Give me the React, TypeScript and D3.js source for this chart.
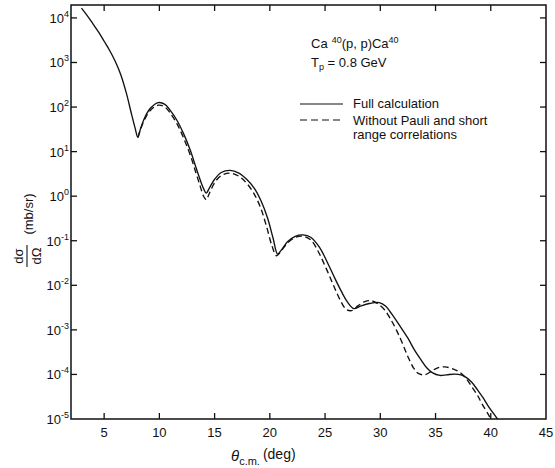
import React from "react";
import * as d3 from "d3";

// ---- data ----
const solidAngle = [2.95, 3.5, 4.0, 4.5, 5.0, 5.5, 6.0, 6.5, 7.0, 7.5, 7.8, 8.05, 8.3, 8.7, 9.2, 9.9, 10.5, 11.0, 11.6, 12.2, 12.8, 13.3, 13.7, 14.0, 14.25, 14.5, 15.0, 15.6, 16.4, 17.2, 17.9, 18.6, 19.2, 19.8, 20.3, 20.7, 21.0, 21.6, 22.3, 23.0, 23.7, 24.5, 25.2, 25.9, 26.5, 27.0, 27.6, 28.2, 29.0, 29.9, 30.5, 31.0, 31.8, 32.5, 33.1, 33.7, 34.2, 34.7, 35.4, 36.0, 36.75, 37.3, 37.8, 38.3, 38.8, 39.3, 39.8, 40.6, 41.0];
const solidValue = [1.66e4, 1.1e4, 7.3e3, 4.8e3, 3.0e3, 1.86e3, 1.07e3, 5.4e2, 2.1e2, 66, 34, 21, 33, 60, 95, 126, 115, 83, 50, 25, 10.7, 4.5, 2.3, 1.48, 1.17, 1.48, 2.4, 3.4, 3.8, 3.3, 2.4, 1.5, 0.79, 0.32, 0.112, 0.05, 0.06, 0.095, 0.126, 0.135, 0.12, 0.071, 0.033, 0.0141, 0.0071, 0.0043, 0.003, 0.0034, 0.0039, 0.0041, 0.0034, 0.00234, 0.0012, 6.5e-4, 3.5e-4, 2.1e-4, 1.41e-4, 1.1e-4, 9.5e-5, 9.8e-5, 1.02e-4, 9.8e-5, 8.5e-5, 6.6e-5, 4.5e-5, 3.0e-5, 1.9e-5, 1.0e-5, 7e-6];

const dashedAngle = [8.05, 8.3, 8.7, 9.2, 9.9, 10.5, 11.0, 11.6, 12.2, 12.8, 13.3, 13.7, 14.0, 14.25, 14.5, 15.0, 15.6, 16.4, 17.2, 17.9, 18.6, 19.2, 19.7, 20.2, 20.6, 21.0, 21.6, 22.3, 23.0, 23.7, 24.4, 25.1, 25.8, 26.4, 26.9, 27.4, 28.0, 28.6, 29.2, 29.8, 30.4, 30.9, 31.45, 32.0, 32.5, 33.0, 33.4, 34.0, 34.6, 35.2, 35.85, 36.5, 37.2, 37.8, 38.3, 38.8, 39.2, 39.9, 40.3];
const dashedValue = [21, 32, 55, 85, 110, 100, 72, 42, 20, 8.3, 3.4, 1.66, 1.0, 0.83, 1.12, 2.0, 2.9, 3.3, 2.8, 1.95, 1.1, 0.52, 0.21, 0.076, 0.046, 0.058, 0.089, 0.118, 0.126, 0.105, 0.056, 0.024, 0.0095, 0.0045, 0.0029, 0.0027, 0.0035, 0.0043, 0.0045, 0.0038, 0.0028, 0.0018, 0.001, 5.0e-4, 2.5e-4, 1.41e-4, 1.07e-4, 9.8e-5, 1.17e-4, 1.41e-4, 1.48e-4, 1.35e-4, 1.12e-4, 7.9e-5, 5.2e-5, 3.4e-5, 2.2e-5, 1.12e-5, 7e-6];

const xTicks = [5, 10, 15, 20, 25, 30, 35, 40, 45];
const xInnerTicks = [5, 10, 15, 20, 25, 30, 35, 40];
const yExponents = [4, 3, 2, 1, 0, -1, -2, -3, -4, -5];

const legendLines = ["Full calculation", "Without Pauli and short", "range correlations"];

const FONT = "'Liberation Sans', Arial, sans-serif";

export default function App() {
  const W = 555, H = 468;
  const left = 71, right = 546, top = 5, bottom = 419;
  const x = d3.scaleLinear().domain([2, 45]).range([left, right]);
  const y = d3.scaleLog().domain([1e-5, Math.pow(10, 4.29)]).range([bottom, top]);

  const line = d3
    .line<[number, number]>()
    .x((d) => x(d[0]))
    .y((d) => y(d[1]))
    .curve(d3.curveCatmullRom.alpha(0.5));

  const solidPts = solidAngle.map((a, i) => [a, solidValue[i]] as [number, number]);
  const dashedPts = dashedAngle.map((a, i) => [a, dashedValue[i]] as [number, number]);

  const tickLen = 6;

  return (
    <svg
      width={W}
      height={H}
      viewBox={`0 0 ${W} ${H}`}
      style={{ position: "absolute", left: 0, top: 0, background: "#fff" }}
      fontFamily={FONT}
    >
      <defs>
        <clipPath id="plotClip">
          <rect x={left} y={top} width={right - left} height={bottom - top} />
        </clipPath>
      </defs>
      <rect x={0} y={0} width={W} height={H} fill="#fff" />

      {/* frame */}
      <rect x={left} y={top} width={right - left} height={bottom - top} fill="none" stroke="#111" strokeWidth={1.5} />

      {/* x ticks (bottom and top) */}
      {xInnerTicks.map((t) => (
        <g key={"xt" + t}>
          <line x1={x(t)} x2={x(t)} y1={bottom} y2={bottom - tickLen} stroke="#111" strokeWidth={1.3} />
          <line x1={x(t)} x2={x(t)} y1={top} y2={top + tickLen} stroke="#111" strokeWidth={1.3} />
        </g>
      ))}
      {xTicks.map((t) => (
        <text key={"xl" + t} x={x(t)} y={437} fontSize={13} textAnchor="middle" fill="#111">
          {t}
        </text>
      ))}

      {/* y ticks (left and right) */}
      {yExponents.map((e) => {
        const yy = y(Math.pow(10, e));
        return (
          <g key={"yt" + e}>
            {e > -5 && (
              <>
                <line x1={left} x2={left + tickLen} y1={yy} y2={yy} stroke="#111" strokeWidth={1.3} />
                <line x1={right} x2={right - tickLen} y1={yy} y2={yy} stroke="#111" strokeWidth={1.3} />
              </>
            )}
            <text x={69} y={yy + 5} fontSize={13} textAnchor="end" fill="#111">
              10
              <tspan fontSize={9} dy={-6}>
                {e < 0 ? "-" + Math.abs(e) : String(e)}
              </tspan>
            </text>
          </g>
        );
      })}

      {/* curves */}
      <g clipPath="url(#plotClip)">
        <path d={line(solidPts) || ""} fill="none" stroke="#111" strokeWidth={1.35} />
        <path d={line(dashedPts) || ""} fill="none" stroke="#111" strokeWidth={1.35} strokeDasharray="6,3.5" />
      </g>

      {/* annotation */}
      <text x={311} y={48} fontSize={13} fill="#111">
        Ca
        <tspan dx={4} dy={-5} fontSize={9}>40</tspan>
        <tspan dy={5}>(p, p)Ca</tspan>
        <tspan dy={-5} fontSize={9}>40</tspan>
      </text>
      <text x={311} y={67} fontSize={13} fill="#111">
        T
        <tspan dy={3} fontSize={9}>p</tspan>
        <tspan dy={-3}> = 0.8 GeV</tspan>
      </text>

      {/* legend */}
      <line x1={300} x2={343} y1={104} y2={104} stroke="#111" strokeWidth={1.2} />
      <line x1={300} x2={343} y1={120} y2={120} stroke="#111" strokeWidth={1.2} strokeDasharray="7,4" />
      <text x={353} y={108} fontSize={13} fill="#111">{legendLines[0]}</text>
      <text x={353} y={125} fontSize={13} fill="#111">{legendLines[1]}</text>
      <text x={353} y={139} fontSize={13} fill="#111">{legendLines[2]}</text>

      {/* x axis title */}
      <text x={231} y={461} fontSize={15} fill="#111">
        <tspan fontStyle="italic">θ</tspan>
        <tspan fontSize={11} dy={4}>c.m.</tspan>
        <tspan fontSize={14} dy={-6} dx={3}>(deg)</tspan>
      </text>

      {/* y axis title */}
      <g transform="translate(27,0) rotate(-90)">
        <text x={-214} y={6} fontSize={13} textAnchor="middle" fill="#111">(mb/sr)</text>
        <text x={-256} y={-4} fontSize={13} textAnchor="middle" fill="#111">dσ</text>
        <line x1={-267} x2={-245} y1={0} y2={0} stroke="#111" strokeWidth={1.1} />
        <text x={-256} y={14} fontSize={13} textAnchor="middle" fill="#111">dΩ</text>
      </g>
    </svg>
  );
}
